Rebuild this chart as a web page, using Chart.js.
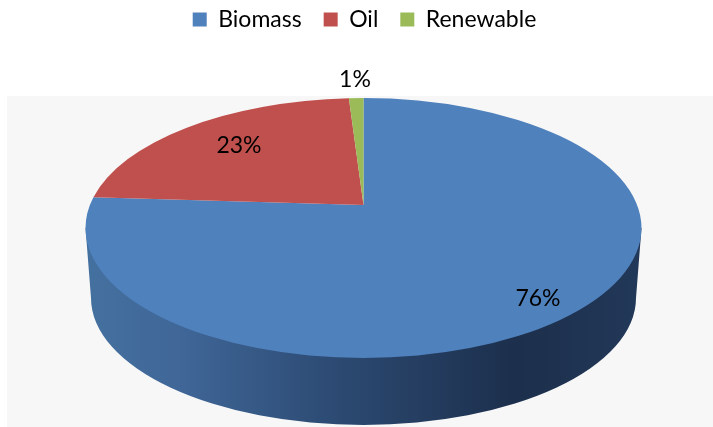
<!DOCTYPE html>
<html>
<head>
<meta charset="utf-8">
<style>html,body{margin:0;padding:0;background:#fff}#wrap{width:713px;height:427px}</style>
<script src="https://cdn.jsdelivr.net/npm/chart.js@4"></script>
</head>
<body>
<div id="wrap"><canvas id="c" width="713" height="427"></canvas></div>
<script>
const categories = ['Biomass', 'Oil', 'Renewable'];
const shares = [76, 23, 1];
const sliceColors = ['#4f81bd', '#c0504d', '#9bbb59'];
const valueText = ['76%', '23%', '1%'];

// layout of the tilted pie (pixels)
const FONT = 'Lato, "Open Sans", sans-serif';
const panel = {x: 7, y: 96, r: 713, b: 427, color: '#f7f7f7'};
const apex = {x: 363.5, y: 205};
const top3d = {cx: 363.5, cy: 228, rx: 278, ry: 130};
const bottom3d = {cx: 363.5, cy: 298, rx: 272.5, ry: 127};
const persp = 0.177, scaleX = 273.6, scaleY = 125.9;
const labelSpots = [[538, 299], [239, 146], [355, 80]];

function rim(a) {
  const u = Math.cos(a), v = Math.sin(a), d = 1 - persp * v;
  return {x: apex.x + scaleX * u / d, y: apex.y + scaleY * v / d};
}
function param(p) {
  return Math.atan2((p.y - top3d.cy) / top3d.ry, (p.x - top3d.cx) / top3d.rx);
}

const pie3d = {
  id: 'pie3d',
  beforeDraw(chart) {
    const ctx = chart.ctx;
    ctx.save();
    ctx.fillStyle = panel.color;
    ctx.fillRect(panel.x, panel.y, panel.r - panel.x, panel.b - panel.y);
    ctx.restore();
  },
  beforeDatasetDraw(chart) {
    const ctx = chart.ctx;
    const arcs = chart.getDatasetMeta(0).data;
    ctx.save();
    // side wall
    const g = ctx.createLinearGradient(bottom3d.cx - bottom3d.rx, 0, bottom3d.cx + bottom3d.rx, 0);
    g.addColorStop(0, '#44709f');
    g.addColorStop(0.17, '#3f6697');
    g.addColorStop(0.45, '#2c4a72');
    g.addColorStop(0.78, '#1c2f4c');
    g.addColorStop(1, '#223858');
    ctx.fillStyle = g;
    ctx.beginPath();
    ctx.moveTo(top3d.cx - top3d.rx, top3d.cy);
    ctx.lineTo(bottom3d.cx - bottom3d.rx, bottom3d.cy);
    ctx.ellipse(bottom3d.cx, bottom3d.cy, bottom3d.rx, bottom3d.ry, 0, Math.PI, 0, true);
    ctx.lineTo(top3d.cx + top3d.rx, top3d.cy);
    ctx.closePath();
    ctx.fill();
    // top face, from the angles the library computed
    arcs.forEach((arc, i) => {
      const s = rim(arc.startAngle), e = rim(arc.endAngle);
      ctx.beginPath();
      ctx.moveTo(apex.x, apex.y);
      ctx.lineTo(s.x, s.y);
      ctx.ellipse(top3d.cx, top3d.cy, top3d.rx, top3d.ry, 0, param(s), param(e), false);
      ctx.closePath();
      ctx.fillStyle = arc.options.backgroundColor;
      ctx.fill();
    });
    ctx.restore();
    return false;
  },
  afterDatasetsDraw(chart) {
    const ctx = chart.ctx;
    ctx.save();
    ctx.fillStyle = '#000';
    ctx.font = '23px ' + FONT;
    ctx.textAlign = 'center';
    ctx.textBaseline = 'middle';
    valueText.forEach((t, i) => ctx.fillText(t, labelSpots[i][0], labelSpots[i][1]));
    ctx.restore();
  }
};

new Chart(document.getElementById('c'), {
  type: 'pie',
  plugins: [pie3d],
  data: {
    labels: categories,
    datasets: [{data: shares, backgroundColor: sliceColors, borderWidth: 0}]
  },
  options: {
    responsive: false,
    animation: false,
    layout: {padding: {top: -14, left: 16}},
    plugins: {
      tooltip: {enabled: false},
      legend: {
        position: 'top',
        labels: {
          boxWidth: 14, boxHeight: 14, padding: 22, color: '#000',
          font: {family: FONT, size: 23}
        }
      }
    }
  }
});
</script>
</body>
</html>
